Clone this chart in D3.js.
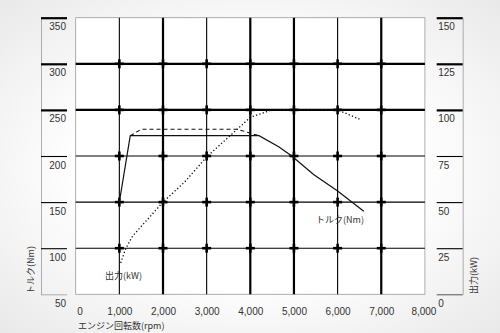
<!DOCTYPE html>
<html>
<head>
<meta charset="utf-8">
<script src="https://cdn.jsdelivr.net/npm/d3@7/dist/d3.min.js"></script>
<style>
  html, body { margin: 0; padding: 0; background: #fff; }
  svg { display: block; }
  .num { font-family: "Liberation Sans", Arial, sans-serif; font-size: 10px; fill: #333; }
  .jp { font-family: "Noto Sans CJK JP", sans-serif; font-size: 9px; fill: #333; }
</style>
</head>
<body>
<svg id="chart" width="500" height="333"></svg>
<script>
// Engine speed (rpm) / torque (Nm) curve
const torqueRpm = [1000, 1250, 4200, 4650, 4950, 5450, 6000, 6600];
const torqueNm  = [150, 222, 222, 210, 200, 180, 162, 140];

// Alternate torque curve (dashed)
const torque2Rpm = [1250, 1500, 3700, 4200];
const torque2Nm  = [222, 229, 229, 222];

// Power (kW) curve
const powerRpm = [1030, 1150, 1300, 2000, 2500, 3000, 3700, 4000, 4500, 5000, 5500, 6000, 6500];
const powerKw  = [17, 25, 31.5, 50, 61, 74.5, 89.5, 96, 100, 100, 100, 100, 95];

// Axis ticks
const rpmTicks    = [0, 1000, 2000, 3000, 4000, 5000, 6000, 7000, 8000];
const torqueTicks = [50, 100, 150, 200, 250, 300, 350];
const powerTicks  = [0, 25, 50, 75, 100, 125, 150];

const svg = d3.select("#chart");

// soft grey vignette behind everything
const defs = svg.append("defs");
const grad = defs.append("radialGradient").attr("id", "bg").attr("cx", "50%").attr("cy", "50%").attr("r", "75%");
grad.append("stop").attr("offset", "45%").attr("stop-color", "#ffffff");
grad.append("stop").attr("offset", "100%").attr("stop-color", "#e6e6e6");
svg.append("rect").attr("width", 500).attr("height", 333).attr("fill", "url(#bg)");

const x  = d3.scaleLinear().domain([0, 8000]).range([75.7, 424.9]);
const yL = d3.scaleLinear().domain([50, 350]).range([294.3, 17.7]);
const yR = d3.scaleLinear().domain([0, 150]).range([294.3, 17.7]);

const thickH = new Set([250, 300]);
const thickV = new Set([2000, 4000, 5000, 7000]);

// plot frame
svg.append("rect")
  .attr("x", x(0)).attr("y", yL(350))
  .attr("width", x(8000) - x(0)).attr("height", yL(50) - yL(350))
  .attr("fill", "#fff").attr("stroke", "#9a9a9a").attr("stroke-width", 0.8);

const grid = svg.append("g");
// horizontal grid lines
grid.selectAll(".h").data(torqueTicks.filter(d => d > 50 && d < 350)).enter().append("line")
  .attr("x1", x(0)).attr("x2", x(8000))
  .attr("y1", d => yL(d)).attr("y2", d => yL(d))
  .attr("stroke", "#000").attr("stroke-width", d => thickH.has(d) ? 2.2 : 1.1);
// vertical grid lines
grid.selectAll(".v").data(rpmTicks.filter(d => d > 0 && d < 8000)).enter().append("line")
  .attr("x1", d => x(d)).attr("x2", d => x(d))
  .attr("y1", yL(350)).attr("y2", yL(50))
  .attr("stroke", "#000").attr("stroke-width", d => thickV.has(d) ? 2.2 : 1.1);

// small crosses at interior grid intersections
const crossPts = [];
rpmTicks.filter(d => d > 0 && d < 8000).forEach(r =>
  torqueTicks.filter(t => t > 50 && t < 350).forEach(t => crossPts.push([r, t])));
const cross = svg.append("g").attr("stroke", "#000").attr("stroke-width", 2.6);
cross.selectAll(".ch").data(crossPts).enter().append("line")
  .attr("x1", d => x(d[0]) - 4.5).attr("x2", d => x(d[0]) + 4.5)
  .attr("y1", d => yL(d[1])).attr("y2", d => yL(d[1]));
cross.selectAll(".cv").data(crossPts).enter().append("line")
  .attr("x1", d => x(d[0])).attr("x2", d => x(d[0]))
  .attr("y1", d => yL(d[1]) - 4.5).attr("y2", d => yL(d[1]) + 4.5);

// left (torque) axis: ticks drawn to the left of the plot
const leftAxis = svg.append("g").attr("transform", "translate(41,0)")
  .call(d3.axisRight(yL).tickValues(torqueTicks).tickSize(26).tickSizeOuter(0).tickFormat(d3.format("d")));
leftAxis.select(".domain").attr("stroke", "#9a9a9a").attr("stroke-width", 0.8);
leftAxis.selectAll(".tick line")
  .attr("stroke", d => d === 50 ? "#9a9a9a" : "#000")
  .attr("stroke-width", d => d >= 250 ? 2.2 : (d === 50 ? 0.8 : 1.1));
leftAxis.selectAll(".tick text").attr("class", "num")
  .attr("x", 25).attr("dy", 0).attr("y", 12).attr("text-anchor", "end")
  .style("font-family", null).style("font-size", null);
leftAxis.attr("font-size", null).attr("font-family", null);

// right (power) axis
const rightAxis = svg.append("g").attr("transform", "translate(462.7,0)")
  .call(d3.axisLeft(yR).tickValues(powerTicks).tickSize(26).tickSizeOuter(0).tickFormat(d3.format("d")));
rightAxis.select(".domain").attr("stroke", "#9a9a9a").attr("stroke-width", 0.8);
rightAxis.selectAll(".tick line")
  .attr("stroke", d => d === 0 ? "#555" : "#000")
  .attr("stroke-width", d => d >= 100 ? 2.2 : (d === 0 ? 1 : 1.1));
rightAxis.selectAll(".tick text").attr("class", "num")
  .attr("x", -24.5).attr("dy", 0).attr("y", 12).attr("text-anchor", "start");
rightAxis.attr("font-size", null).attr("font-family", null);

// bottom (rpm) axis labels
const bottomAxis = svg.append("g").attr("transform", `translate(0,${yL(50)})`)
  .call(d3.axisBottom(x).tickValues(rpmTicks).tickSize(0).tickFormat(d3.format(",")));
bottomAxis.select(".domain").remove();
bottomAxis.selectAll(".tick text").attr("class", "num")
  .attr("y", 21).attr("dy", 0)
  .attr("dx", d => d === 0 ? 3.8 : (d === 8000 ? -1.5 : 0));
bottomAxis.attr("font-size", null).attr("font-family", null);

// curves
const lineOf = (xs, ys, yScale) => d3.line()
  .x((d, i) => x(xs[i])).y((d, i) => yScale(ys[i]))(xs);

svg.append("path").attr("d", lineOf(powerRpm, powerKw, yR))
  .attr("fill", "none").attr("stroke", "#111").attr("stroke-width", 1.3)
  .attr("stroke-dasharray", "1.3,2.2");
svg.append("path").attr("d", lineOf(torque2Rpm, torque2Nm, yL))
  .attr("fill", "none").attr("stroke", "#111").attr("stroke-width", 1.1)
  .attr("stroke-dasharray", "4,3");
svg.append("path").attr("d", lineOf(torqueRpm, torqueNm, yL))
  .attr("fill", "none").attr("stroke", "#111").attr("stroke-width", 1.2);

// curve labels
svg.append("text").attr("class", "jp").attr("x", 316).attr("y", 223).text("トルク(Nm)");
svg.append("text").attr("class", "jp").attr("x", 105).attr("y", 279).text("出力(kW)");

// axis titles
svg.append("text").attr("class", "jp").attr("x", 78).attr("y", 328.5).text("エンジン回転数(rpm)");
svg.append("text").attr("class", "jp").attr("transform", "translate(33.5,294) rotate(-90)").text("トルク(Nm)");
svg.append("text").attr("class", "jp").attr("transform", "translate(476.5,294) rotate(-90)").text("出力(kW)");
</script>
</body>
</html>
